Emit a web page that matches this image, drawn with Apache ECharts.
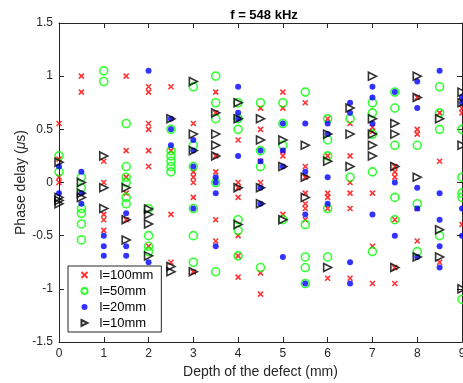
<!DOCTYPE html>
<html><head><meta charset="utf-8">
<script src="https://cdn.jsdelivr.net/npm/echarts@6/dist/echarts.min.js"></script>
<style>html,body{margin:0;padding:0;background:#fff}#c{width:463px;height:383px}</style>
</head><body><div id="c"></div>
<script>
const title = 'f = 548 kHz';
const xName = 'Depth of the defect (mm)';
const yName = 'Phase delay ({mu|μ}s)';
const seriesNames = ['l=100mm', 'l=50mm', 'l=20mm', 'l=10mm'];

// [depth, phase delay]
const l100 = [
  [0,0.555],[0,0.22],[0,0.05],[0,0.0],
  [0.5,1.0],[0.5,0.85],
  [1,0.20],[1,0.0],[1,-0.30],[1,-0.35],[1,-0.45],
  [1.5,1.0],[1.5,0.30],[1.5,0.05],[1.5,-0.10],[1.5,-0.35],
  [2,0.90],[2,0.85],[2,0.555],[2,0.50],[2,0.30],[2,0.15],[2,-0.60],
  [2.5,0.90],[2.5,0.30],[2.5,-0.30],[2.5,-0.75],
  [3,0.555],[3,0.10],[3,0.05],[3,0.0],[3,-0.14],[3,-0.84],
  [3.5,0.85],[3.5,0.655],[3.5,0.25],[3.5,0.10],[3.5,-0.35],[3.5,-0.55],
  [4,0.40],[4,0.0],[4,-0.05],[4,-0.14],[4,-0.50],[4,-0.69],[4,-0.89],
  [4.5,0.70],[4.5,0.50],[4.5,0.20],[4.5,0.0],[4.5,-0.85],[4.5,-1.05],
  [5,0.85],[5,0.70],[5,0.30],[5,0.25],[5,-0.30],
  [5.5,0.75],[5.5,0.15],[5.5,0.05],[5.5,-0.10],[5.5,-0.20],[5.5,-0.245],[5.5,-0.35],
  [6,0.60],[6,0.25],[6,-0.10],[6,-0.14],[6,-0.245],[6,-0.90],
  [6.5,0.555],[6.5,0.25],[6.5,0.0],[6.5,-0.10],[6.5,-0.245],[6.5,-0.90],
  [7,0.52],[7,0.48],[7,-0.10],[7,-0.60],[7,-0.95],
  [7.5,0.15],[7.5,0.10],[7.5,0.05],[7.5,-0.35],[7.5,-0.80],[7.5,-0.95],
  [8,0.80],[8,0.50],[8,0.455],[8,-0.245],[8,-0.55],
  [8.5,0.655],[8.5,0.20],[8.5,-0.75],
  [9,0.70],[9,0.655],[9,-0.395]
];
const l50 = [
  [0,0.25],[0,0.10],
  [0.5,0.05],[0.5,-0.05],[0.5,-0.245],[0.5,-0.29],[0.5,-0.39],[0.5,-0.54],
  [1,1.05],[1,0.95],
  [1.5,0.555],[1.5,0.15],[1.5,0.05],[1.5,0.0],[1.5,-0.14],[1.5,-0.20],
  [2,-0.245],[2,-0.50],[2,-0.60],[2,-0.65],
  [2.5,0.50],[2.5,0.30],[2.5,0.25],[2.5,0.20],[2.5,0.15],[2.5,0.10],
  [3,0.90],[3,0.35],[3,0.15],[3,-0.245],[3,-0.50],[3,-0.75],
  [3.5,1.0],[3.5,0.75],[3.5,0.60],[3.5,0.0],[3.5,-0.84],
  [4,0.75],[4,0.60],[4,0.50],[4,-0.35],[4,-0.45],[4,-0.69],
  [4.5,0.75],[4.5,0.30],[4.5,0.15],[4.5,-0.80],
  [5,0.75],[5,0.555],[5,0.35],[5,-0.35],
  [5.5,0.85],[5.5,-0.395],[5.5,-0.70],[5.5,-0.80],[5.5,-0.95],
  [6,0.60],[6,0.40],[6,0.25],[6,-0.245],[6,-0.70],
  [6.5,0.60],[6.5,0.05],
  [7,0.75],[7,0.655],[7,0.455],[7,0.10],[7,-0.65],
  [7.5,0.85],[7.5,0.70],[7.5,0.35],[7.5,-0.14],[7.5,-0.35],
  [8,0.35],[8,-0.20],[8,-0.65],
  [8.5,0.90],[8.5,0.655],[8.5,0.50],[8.5,-0.50],
  [9,0.50],[9,0.05],[9,-0.10],[9,-0.14],[9,-1.10]
];
const l20 = [
  [0,0.15],[0,-0.10],
  [0.5,0.10],[0.5,-0.10],[0.5,-0.20],
  [1,-0.50],[1,-0.60],[1,-0.69],
  [1.5,-0.29],[1.5,-0.60],[1.5,-0.69],
  [2,1.05],[2,-0.75],
  [2.5,0.60],[2.5,0.50],[2.5,0.35],
  [3,0.40],[3,0.30],[3,0.15],[3,-0.245],
  [3.5,0.05],[3.5,0.0],[3.5,-0.10],[3.5,-0.60],
  [4,0.90],[4,0.655],[4,0.60],[4,0.25],
  [4.5,0.30],[4.5,0.20],[4.5,-0.05],[4.5,-0.20],
  [5,0.555],[5,0.30],[5,0.15],[5,-0.70],
  [5.5,0.555],[5.5,0.10],[5.5,-0.30],[5.5,-0.95],
  [6,0.555],[6,0.455],[6,0.05],[6,-0.20],
  [6.5,0.75],[6.5,0.655],[6.5,-0.75],[6.5,-0.95],
  [7,0.90],[7,0.80],[7,0.555],[7,-0.30],
  [7.5,0.85],[7.5,0.0],[7.5,-0.50],
  [8,0.95],[8,0.70],[8,-0.05],[8,-0.245],[8,-0.70],
  [8.5,1.05],[8.5,-0.10],[8.5,-0.35],[8.5,-0.60],[8.5,-0.80],
  [9,0.80],[9,0.75],[9,-0.245],[9,-0.50]
];
const l10 = [
  [0,0.19],[0,-0.14],[0,-0.17],[0,-0.20],
  [0.5,0.0],[0.5,-0.10],[0.5,-0.14],
  [1,0.25],[1,-0.05],[1,-0.245],
  [1.5,-0.05],[1.5,-0.35],[1.5,-0.54],
  [2,-0.25],[2,-0.30],[2,-0.39],[2,-0.69],
  [2.5,0.60],[2.5,-0.79],[2.5,-0.84],
  [3,0.95],[3,0.455],[3,0.30],[3,-0.84],
  [3.5,0.655],[3.5,0.455],[3.5,0.35],[3.5,0.25],
  [4,0.75],[4,0.60],[4,-0.05],[4,-0.395],
  [4.5,0.60],[4.5,0.40],[4.5,-0.05],[4.5,-0.20],
  [5,0.40],[5,0.15],[5,-0.35],
  [5.5,0.35],[5.5,0.05],[5.5,-0.14],
  [6,0.455],[6,0.20],[6,-0.80],
  [6.5,0.70],[6.5,0.455],[6.5,0.15],
  [7,1.0],[7,0.60],[7,0.455],[7,0.35],[7,0.25],
  [7.5,0.555],[7.5,0.455],[7.5,0.15],[7.5,-0.80],
  [8,1.0],[8,0.80],[8,0.05],[8,-0.70],
  [8.5,0.60],[8.5,-0.445],[8.5,-0.70],
  [9,0.85],[9,0.75],[9,0.35],[9,-1.0]
];

const FONT = 'Liberation Sans, Arial, Helvetica, sans-serif';
const AX = '#262626';
const chart = echarts.init(document.getElementById('c'), null, {renderer: 'canvas'});

const axisCommon = {
  axisLine: {show: true, onZero: false, lineStyle: {color: AX, width: 1}},
  axisTick: {show: true, inside: true, length: 5, lineStyle: {color: AX}},
  splitLine: {show: false},
  nameMoveOverlap: false
};

const cross = 'path://M0,0L10,10M10,0L0,10';
const triR = 'path://M0,0L10,5L0,10Z';

chart.setOption({
  animation: false,
  backgroundColor: '#fff',
  title: {
    text: title, left: 259, top: 4, textAlign: 'center',
    textStyle: {fontFamily: FONT, fontSize: 13, fontWeight: 'bold', color: '#000'}
  },
  grid: {left: 59, right: 1, top: 23, bottom: 41, containLabel: false, outerBoundsMode: 'none'},
  legend: {
    left: 68, top: 266, orient: 'vertical',
    backgroundColor: '#fff', borderColor: AX, borderWidth: 1, borderRadius: 0,
    padding: [1, 8, 1, 11], itemGap: 0, itemWidth: 20, itemHeight: 6,
    textStyle: {fontFamily: FONT, fontSize: 13, color: '#000', lineHeight: 16},
    data: seriesNames
  },
  xAxis: [
    Object.assign({
      type: 'value', min: 0, max: 9, interval: 1, position: 'bottom',
      name: xName, nameLocation: 'middle', nameGap: 23,
      nameTextStyle: {fontFamily: FONT, fontSize: 14, color: AX},
      axisLabel: {fontFamily: FONT, fontSize: 12, color: AX, margin: 6}
    }, axisCommon),
    Object.assign({
      type: 'value', min: 0, max: 9, interval: 1, position: 'top',
      axisLabel: {show: false}
    }, axisCommon)
  ],
  yAxis: [
    Object.assign({
      type: 'value', min: -1.5, max: 1.5, interval: 0.5, position: 'left',
      name: yName, nameLocation: 'middle', nameGap: 31,
      nameTextStyle: {fontFamily: FONT, fontSize: 14, color: AX,
        rich: {mu: {fontFamily: FONT, fontSize: 14, fontStyle: 'italic', color: AX}}},
      axisLabel: {fontFamily: FONT, fontSize: 12, color: AX, margin: 6}
    }, axisCommon),
    Object.assign({
      type: 'value', min: -1.5, max: 1.5, interval: 0.5, position: 'right',
      axisLabel: {show: false}
    }, axisCommon)
  ],
  series: [
    {name: seriesNames[0], type: 'scatter', data: l100, symbol: cross, symbolSize: 5,
     itemStyle: {color: 'none', borderColor: '#ff0000', borderWidth: 1.6}},
    {name: seriesNames[1], type: 'scatter', data: l50, symbol: 'circle', symbolSize: 8,
     itemStyle: {color: 'rgba(0,0,0,0)', borderColor: '#00ff00', borderWidth: 1.6}},
    {name: seriesNames[2], type: 'scatter', data: l20, symbol: 'circle', symbolSize: 6,
     itemStyle: {color: '#0000ff', borderWidth: 0}},
    {name: seriesNames[3], type: 'scatter', data: l10, symbol: triR, symbolSize: 8,
     itemStyle: {color: 'rgba(0,0,0,0)', borderColor: '#000000', borderWidth: 1.6}}
  ]
});
</script>
</body></html>
